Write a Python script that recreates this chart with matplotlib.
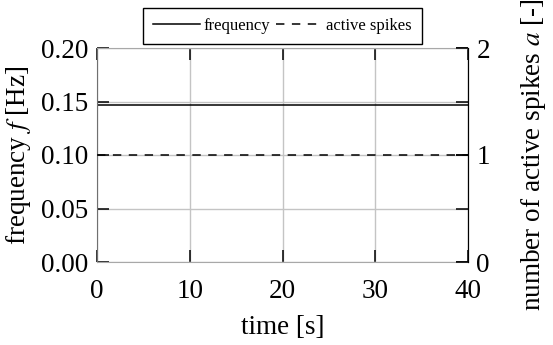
import matplotlib
matplotlib.use('Agg')
import matplotlib.pyplot as plt

plt.rcParams['font.family'] = ['Liberation Serif', 'DejaVu Serif']
plt.rcParams['mathtext.fontset'] = 'stix'

# data
time = [0, 10, 20, 30, 40]
frequency = [0.147, 0.147, 0.147, 0.147, 0.147]
active_spikes = [1, 1, 1, 1, 1]

xticks = [0, 10, 20, 30, 40]
yticks_left = [0.00, 0.05, 0.10, 0.15, 0.20]
yticks_right = [0, 1, 2]

fs = 19.5

fig = plt.figure(figsize=(5.53, 3.45), dpi=100)
ax = fig.add_axes([97 / 553, 1 - 262 / 345, (468 - 97) / 553, (262 - 48) / 345])
ax2 = ax.twinx()

l1, = ax.plot(time, frequency, color='black', lw=1.1, label='frequency')
l2, = ax2.plot(time, active_spikes, color='black', lw=1.1, linestyle=(0, (5.5, 4.9)), label='active spikes')

ax.set_xlim(0, 40)
ax.set_ylim(0, 0.20)
ax2.set_ylim(0, 2)
ax.set_xticks(xticks)
ax.set_yticks(yticks_left)
ax.set_yticklabels(['%.2f' % v for v in yticks_left])
ax2.set_yticks(yticks_right)

ax.grid(True, color='#c4c4c4', lw=1.0)
ax.tick_params(direction='in', top=True, right=True, length=8.5, width=1.1, labelsize=fs)
ax.tick_params(axis='x', pad=12)
ax.tick_params(axis='y', pad=6)
ax2.tick_params(direction='in', length=8.5, width=1.1, labelsize=fs, pad=6)

for s in ['top', 'bottom']:
    ax.spines[s].set_color('#a8a8a8')
ax.spines['left'].set_color('#707070')
for s in ['top', 'bottom', 'left']:
    ax2.spines[s].set_visible(False)

ax.set_xlabel('time [s]', fontsize=fs, labelpad=8)
ax.set_ylabel('frequency $f$ [Hz]', fontsize=fs, labelpad=6)
ax2.set_ylabel('number of active spikes $a$ [-]', fontsize=fs, labelpad=21)

leg = ax.legend([l1, l2], ['frequency', 'active spikes'], loc='lower center',
                bbox_to_anchor=(0.5, 1.0), ncol=2, fontsize=12, frameon=True,
                fancybox=False, edgecolor='black', framealpha=1,
                handlelength=2.8, handletextpad=0.2, columnspacing=0.4,
                borderpad=0.6, borderaxespad=0.25)
leg.get_frame().set_linewidth(1.0)

fig.savefig('out.png', dpi=100)
